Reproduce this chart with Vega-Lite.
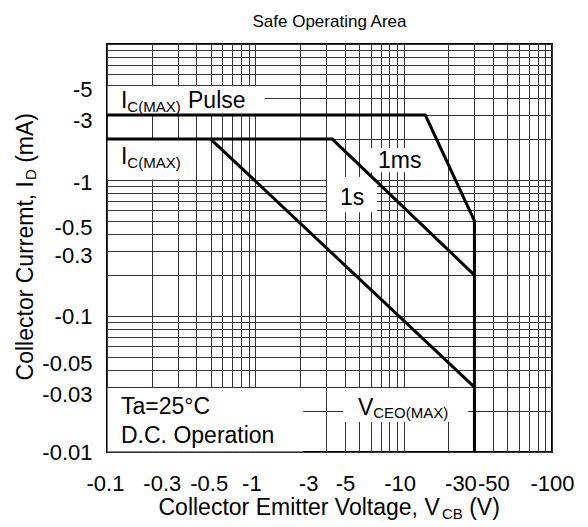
{
  "$schema": "https://vega.github.io/schema/vega-lite/v6.json",
  "width": 445,
  "height": 408,
  "autosize": {"type": "none"},
  "padding": {"left": 107, "top": 44, "right": 36, "bottom": 75},
  "background": "white",
  "config": {"view": {"stroke": "#000", "strokeWidth": 2}, "font": "Liberation Sans"},
  "datasets": {
    "curves": [
      {"curve": "pulse", "k": 1, "v": 0.1, "i": 3},
      {"curve": "pulse", "k": 2, "v": 14, "i": 3},
      {"curve": "pulse", "k": 3, "v": 30, "i": 0.5},
      {"curve": "pulse", "k": 4, "v": 30, "i": 0.01},
      {"curve": "1s", "k": 1, "v": 0.1, "i": 2},
      {"curve": "1s", "k": 2, "v": 3.3, "i": 2},
      {"curve": "1s", "k": 3, "v": 30, "i": 0.2},
      {"curve": "dc", "k": 1, "v": 0.5, "i": 2},
      {"curve": "dc", "k": 2, "v": 30, "i": 0.03}
    ],
    "boxes": [
      {"v": 0.101, "v2": 1.16, "i": 3, "i2": 4.9},
      {"v": 0.101, "v2": 0.37, "i": 1.01, "i2": 2},
      {"v": 5.75, "v2": 15, "i": 1.14, "i2": 1.72},
      {"v": 3.05, "v2": 6.6, "i": 0.58, "i2": 1.05},
      {"v": 0.101, "v2": 2.1, "i": 0.0101, "i2": 0.0295},
      {"v": 3.9, "v2": 27.2, "i": 0.0166, "i2": 0.0295}
    ],
    "texts": [
      {"v": 3.162, "i": 13.34, "text": "Safe Operating Area", "part": "title", "dir": "h"},
      {"v": 0.1243, "i": 3.383, "text": "I", "part": "base", "dir": "h"},
      {"v": 0.1372, "i": 3.162, "text": "C(MAX)", "part": "sub", "dir": "h"},
      {"v": 0.3516, "i": 3.383, "text": "Pulse", "part": "base", "dir": "h"},
      {"v": 0.1243, "i": 1.311, "text": "I", "part": "base", "dir": "h"},
      {"v": 0.1372, "i": 1.225, "text": "C(MAX)", "part": "sub", "dir": "h"},
      {"v": 6.71, "i": 1.225, "text": "1ms", "part": "base", "dir": "h"},
      {"v": 3.72, "i": 0.655, "text": "1s", "part": "base", "dir": "h"},
      {"v": 0.1243, "i": 0.019, "text": "Ta=25°C", "part": "base", "dir": "h"},
      {"v": 0.1243, "i": 0.01165, "text": "D.C. Operation", "part": "base", "dir": "h"},
      {"v": 4.92, "i": 0.0187, "text": "V", "part": "base", "dir": "h"},
      {"v": 6.24, "i": 0.01778, "text": "CEO(MAX)", "part": "sub", "dir": "h"},
      {"v": 0.2224, "i": 0.00344, "text": "Collector Emitter Voltage, V", "part": "base", "dir": "h"},
      {"v": 18.14, "i": 0.003216, "text": "CB", "part": "sub", "dir": "h"},
      {"v": 27.66, "i": 0.00344, "text": "(V)", "part": "base", "dir": "h"},
      {"v": 0.0317, "i": 0.0336, "text": "Collector Curremt, I", "part": "base", "dir": "v"},
      {"v": 0.0332, "i": 1.0, "text": "D", "part": "sub", "dir": "v"},
      {"v": 0.0317, "i": 1.338, "text": "(mA)", "part": "base", "dir": "v"}
    ]
  },
  "layer": [
    {
      "data": {"name": "boxes"},
      "mark": {"type": "rect", "fill": "white", "strokeWidth": 0},
      "encoding": {
        "x": {
          "field": "v", "type": "quantitative",
          "scale": {"type": "log", "domain": [0.1, 100], "nice": false, "zero": false},
          "axis": {
            "values": [0.1, 0.2, 0.3, 0.4, 0.5, 0.6, 0.7, 0.8, 0.9, 1, 2, 3, 4, 5, 6, 7, 8, 9, 10, 20, 30, 40, 50, 60, 70, 80, 90, 100],
            "grid": true, "gridColor": "#333", "gridWidth": 1, "gridOpacity": 1,
            "ticks": false, "domain": false,
            "labelExpr": "indexof([0.1,0.3,0.5,1,3,5,10,30,50,100], datum.value) >= 0 ? '-' + datum.value : ''",
            "labelOverlap": false, "labelFlush": false, "labelBound": false,
            "labelFont": "Liberation Sans", "labelFontSize": 22, "labelColor": "#000", "labelPadding": 21,
            "labelOffset": {"expr": "datum.value == 0.3 ? -16 : datum.value == 3 ? -18 : datum.value == 5 ? -14 : datum.value == 30 ? -14 : datum.value == 50 ? -14 : datum.value == 1 ? -4 : datum.value == 10 ? -4 : datum.value == 0.1 ? -2 : datum.value == 0.5 ? -2 : 0"},
            "title": null
          }
        },
        "x2": {"field": "v2"},
        "y": {
          "field": "i", "type": "quantitative",
          "scale": {"type": "log", "domain": [0.01, 10], "nice": false, "zero": false},
          "axis": {
            "values": [0.01, 0.02, 0.03, 0.04, 0.05, 0.06, 0.07, 0.08, 0.09, 0.1, 0.2, 0.3, 0.4, 0.5, 0.6, 0.7, 0.8, 0.9, 1, 2, 3, 4, 5, 6, 7, 8, 9, 10],
            "grid": true, "gridColor": "#333", "gridWidth": 1, "gridOpacity": 1,
            "ticks": false, "domain": false,
            "labelExpr": "indexof([0.01,0.03,0.05,0.1,0.3,0.5,1,3,5], datum.value) >= 0 ? '-' + datum.value : ''",
            "labelOverlap": false, "labelFlush": false, "labelBound": false,
            "labelFont": "Liberation Sans", "labelFontSize": 22, "labelColor": "#000", "labelPadding": 15,
            "labelOffset": {"expr": "datum.value == 5 ? 5 : datum.value == 3 ? 5 : datum.value == 1 ? 2 : datum.value == 0.5 ? 7 : datum.value == 0.3 ? 4 : datum.value == 0.05 ? 7 : datum.value == 0.03 ? 7 : 0"},
            "title": null
          }
        },
        "y2": {"field": "i2"}
      }
    },
    {
      "data": {"name": "curves"},
      "mark": {"type": "line", "stroke": "#000", "strokeWidth": 3, "strokeJoin": "miter"},
      "encoding": {
        "x": {"field": "v", "type": "quantitative"},
        "y": {"field": "i", "type": "quantitative"},
        "detail": {"field": "curve"},
        "order": {"field": "k"}
      }
    },
    {
      "data": {"name": "texts"},
      "transform": [{"filter": "datum.part == 'title'"}],
      "mark": {"type": "text", "align": "center", "baseline": "alphabetic", "font": "Liberation Sans", "fontSize": 17, "fill": "#000"},
      "encoding": {
        "x": {"field": "v", "type": "quantitative"},
        "y": {"field": "i", "type": "quantitative"},
        "text": {"field": "text"}
      }
    },
    {
      "data": {"name": "texts"},
      "transform": [{"filter": "datum.part == 'base' && datum.dir == 'h'"}],
      "mark": {"type": "text", "align": "left", "baseline": "alphabetic", "font": "Liberation Sans", "fontSize": 23, "fill": "#000"},
      "encoding": {
        "x": {"field": "v", "type": "quantitative"},
        "y": {"field": "i", "type": "quantitative"},
        "text": {"field": "text"}
      }
    },
    {
      "data": {"name": "texts"},
      "transform": [{"filter": "datum.part == 'sub' && datum.dir == 'h'"}],
      "mark": {"type": "text", "align": "left", "baseline": "alphabetic", "font": "Liberation Sans", "fontSize": 15, "fill": "#000"},
      "encoding": {
        "x": {"field": "v", "type": "quantitative"},
        "y": {"field": "i", "type": "quantitative"},
        "text": {"field": "text"}
      }
    },
    {
      "data": {"name": "texts"},
      "transform": [{"filter": "datum.part == 'base' && datum.dir == 'v'"}],
      "mark": {"type": "text", "align": "left", "baseline": "alphabetic", "angle": 270, "font": "Liberation Sans", "fontSize": 23, "fill": "#000"},
      "encoding": {
        "x": {"field": "v", "type": "quantitative"},
        "y": {"field": "i", "type": "quantitative"},
        "text": {"field": "text"}
      }
    },
    {
      "data": {"name": "texts"},
      "transform": [{"filter": "datum.part == 'sub' && datum.dir == 'v'"}],
      "mark": {"type": "text", "align": "left", "baseline": "alphabetic", "angle": 270, "font": "Liberation Sans", "fontSize": 15, "fill": "#000"},
      "encoding": {
        "x": {"field": "v", "type": "quantitative"},
        "y": {"field": "i", "type": "quantitative"},
        "text": {"field": "text"}
      }
    }
  ]
}
